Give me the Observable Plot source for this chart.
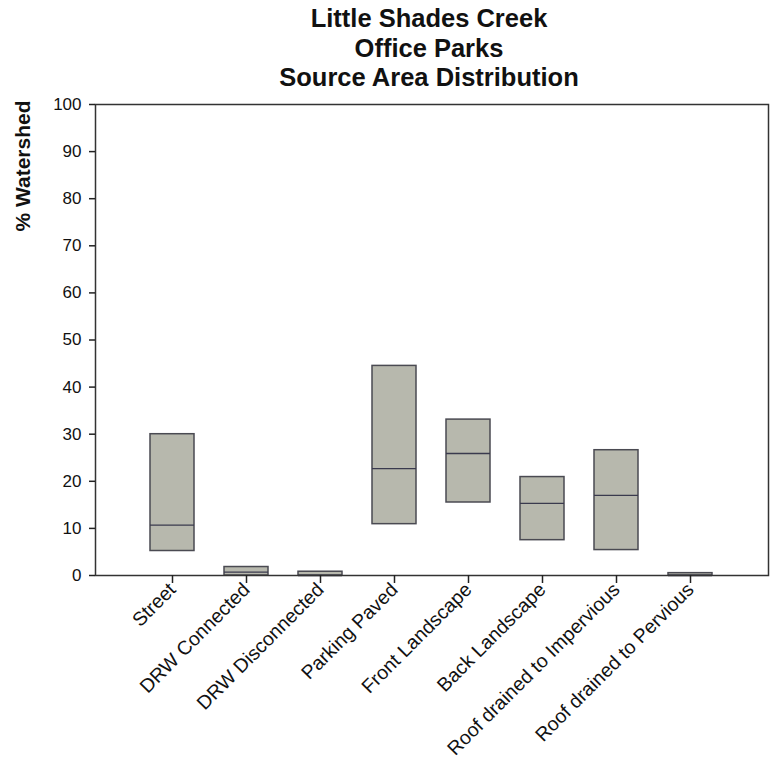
<!DOCTYPE html>
<html>
<head>
<meta charset="utf-8">
<script src="https://cdn.jsdelivr.net/npm/d3@7"></script>
<script src="https://cdn.jsdelivr.net/npm/@observablehq/plot@0.6"></script>
<style>
  html, body { margin: 0; padding: 0; background: #fff; }
  #wrap { position: relative; width: 775px; height: 764px; font-family: "Liberation Sans", Arial, sans-serif; }
  #title { position: absolute; left: 0; top: 4px; width: 858px; text-align: center; font-weight: bold; font-size: 25.5px; line-height: 29.5px; color: #111; z-index: 2; }
  #ylab { position: absolute; left: 23px; top: 166px; transform: translate(-50%, -50%) rotate(-90deg); font-weight: bold; font-size: 21px; white-space: nowrap; color: #111; z-index: 2; }
  #chart { position: absolute; left: 0; top: 96px; z-index: 1; }
</style>
</head>
<body>
<div id="wrap">
  <div id="title">Little Shades Creek<br>Office Parks<br>Source Area Distribution</div>
  <div id="ylab">% Watershed</div>
  <div id="chart"></div>
</div>
<script>
const categories = ["Street", "DRW Connected", "DRW Disconnected", "Parking Paved", "Front Landscape", "Back Landscape", "Roof drained to Impervious", "Roof drained to Pervious"];
const lowValues = [5.2, 0, 0, 10.9, 15.5, 7.5, 5.4, 0];
const medianValues = [10.7, 0.7, 0, 22.7, 25.9, 15.3, 17.0, 0];
const highValues = [30.0, 1.8, 0.8, 44.5, 33.1, 20.9, 26.6, 0.5];
const yTicks = [0, 10, 20, 30, 40, 50, 60, 70, 80, 90, 100];

const data = categories.map((c, i) => ({cat: c, low: lowValues[i], median: medianValues[i], high: highValues[i]}));

const chart = Plot.plot({
  width: 775,
  height: 668,
  marginLeft: 95,
  marginRight: 7,
  marginTop: 8,
  marginBottom: 189,
  style: {fontFamily: "'Liberation Sans', Arial, sans-serif", fontSize: "17px", color: "#111", background: "transparent"},
  x: {domain: categories, paddingInner: 0.4, paddingOuter: 0.7, label: null},
  y: {domain: [0, 100], label: null},
  marks: [
    Plot.barY(data, {x: "cat", y1: "low", y2: "high", fill: "#b7b8ad", stroke: "#4a4a52", strokeWidth: 1.5}),
    Plot.tickY(data, {x: "cat", y: "median", stroke: "#3a3a4e", strokeWidth: 1.3}),
    Plot.frame({stroke: "#333", strokeWidth: 1.5}),
    Plot.axisY({ticks: yTicks, tickSize: 6, tickPadding: 8, stroke: "#222", strokeWidth: 1.5, fontSize: 17, label: null}),
    Plot.axisX({tickSize: 8, tickRotate: -45, tickPadding: 3, stroke: "#222", strokeWidth: 1.5, fontSize: 19.5, label: null})
  ]
});
document.getElementById("chart").appendChild(chart);
</script>
</body>
</html>
